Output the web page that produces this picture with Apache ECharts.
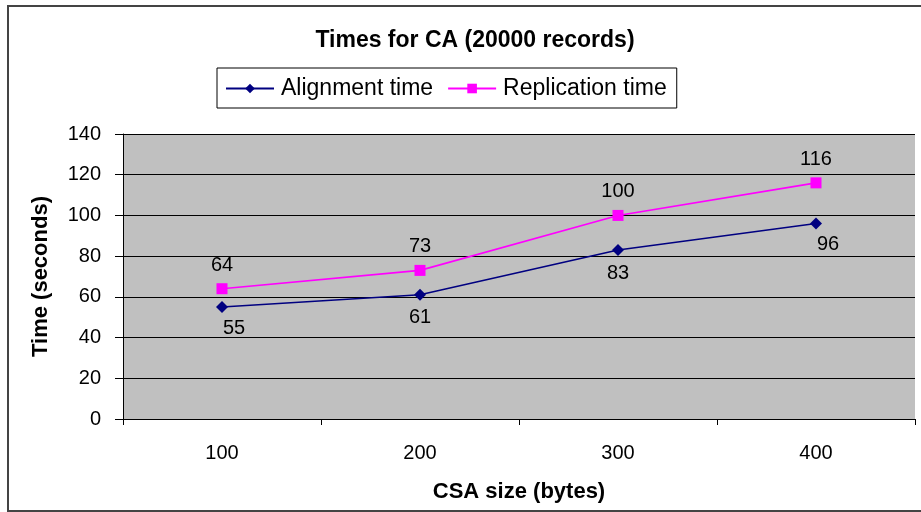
<!DOCTYPE html>
<html><head><meta charset="utf-8">
<script src="https://cdn.jsdelivr.net/npm/echarts@6/dist/echarts.min.js"></script>
<style>html,body{margin:0;padding:0;background:#fff}#c{width:921px;height:512px}</style>
</head><body><div id="c"></div>
<script>
const categories = ['100', '200', '300', '400'];
const alignmentTime = [55, 61, 83, 96];
const replicationTime = [64, 73, 100, 116];
const seriesNames = ['Alignment time', 'Replication time'];

const chart = echarts.init(document.getElementById('c'), null, {renderer: 'canvas'});
const font = 'Arial, "Liberation Sans", sans-serif';
const lblBase = {show: true, fontFamily: font, fontSize: 20, color: '#000'};
chart.setOption({
  animation: false,
  backgroundColor: '#fff',
  title: {
    text: 'Times for CA (20000 records)',
    left: 470, top: 24, textAlign: 'center',
    textStyle: {fontFamily: font, fontSize: 23, fontWeight: 'bold', color: '#000'}
  },
  legend: {
    left: 217, top: 68, width: 465, height: 40,
    padding: [9, 10, 8, 8],
    borderColor: '#000', borderWidth: 1,
    itemGap: 14, itemWidth: 48, itemHeight: 12,
    textStyle: {fontFamily: font, fontSize: 23, color: '#000', padding: [0, 0, 0, 2]},
    data: [seriesNames[0], seriesNames[1]]
  },
  grid: {left: 123, right: 6, top: 134, bottom: 93, show: true, backgroundColor: '#c0c0c0', borderWidth: 0},
  xAxis: {
    type: 'category', data: categories, boundaryGap: true,
    name: 'CSA size (bytes)', nameLocation: 'middle', nameGap: 62,
    nameTextStyle: {fontFamily: font, fontSize: 22, fontWeight: 'bold', color: '#000'},
    axisLine: {lineStyle: {color: '#000', width: 1}},
    axisTick: {show: true, length: 6, inside: false, lineStyle: {color: '#000'}},
    axisLabel: {fontFamily: font, fontSize: 20, color: '#000', margin: 24}
  },
  yAxis: {
    type: 'value', min: 0, max: 140, interval: 20,
    name: 'Time (seconds)', nameLocation: 'middle', nameGap: 71, nameRotate: 90,
    nameTextStyle: {fontFamily: font, fontSize: 22, fontWeight: 'bold', color: '#000'},
    axisLine: {show: true, lineStyle: {color: '#000', width: 1}},
    axisTick: {show: true, length: 8, lineStyle: {color: '#000'}},
    axisLabel: {fontFamily: font, fontSize: 20, color: '#000', margin: 22},
    splitLine: {show: true, lineStyle: {color: '#000', width: 1}}
  },
  series: [
    {
      name: seriesNames[0], type: 'line',
      data: alignmentTime.map((v, i) => ({
        value: v,
        label: (i === 0 || i === alignmentTime.length - 1) ? {offset: [12, -2]} : {}
      })),
      symbol: 'diamond', symbolSize: 12,
      itemStyle: {color: '#000080'}, lineStyle: {color: '#000080', width: 1.6},
      label: Object.assign({position: 'bottom', distance: 7}, lblBase)
    },
    {
      name: seriesNames[1], type: 'line', data: replicationTime,
      symbol: 'rect', symbolSize: 11,
      itemStyle: {color: '#ff00ff'}, lineStyle: {color: '#ff00ff', width: 1.6},
      label: Object.assign({position: 'top', distance: 8}, lblBase)
    }
  ],
  graphic: [{
    type: 'rect', shape: {x: 8, y: 6, width: 1000, height: 505},
    style: {fill: 'none', stroke: '#444', lineWidth: 2}, silent: true, z: 100
  }]
});
</script></body></html>
